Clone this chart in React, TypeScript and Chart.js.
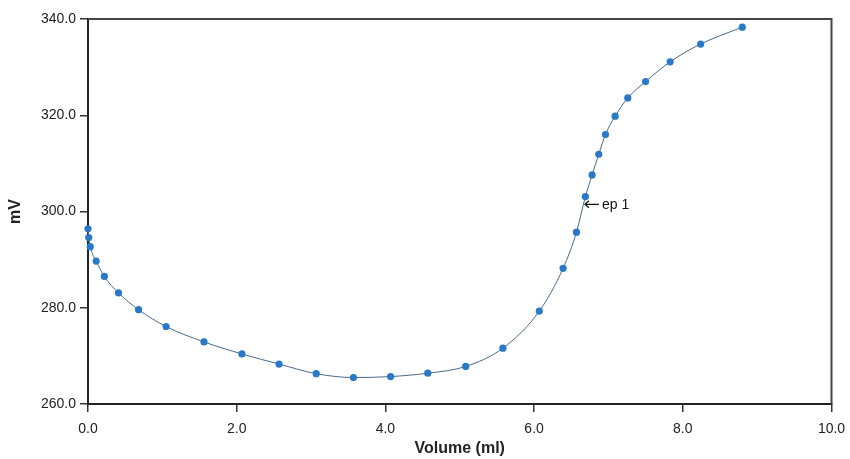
import React, { useEffect, useRef } from "react";
import { Chart, registerables } from "chart.js";

Chart.register(...registerables);

const volumes = [
  0.0, 0.01, 0.03, 0.11, 0.22, 0.41, 0.68, 1.05, 1.56, 2.07, 2.57, 3.07, 3.57, 4.07, 4.57,
  5.08, 5.58, 6.07, 6.39, 6.57, 6.69, 6.78, 6.87, 6.96, 7.09, 7.26, 7.5, 7.83, 8.24, 8.8,
];
const millivolts = [
  296.4, 294.6, 292.7, 289.7, 286.5, 283.1, 279.6, 276.1, 272.9, 270.4, 268.3, 266.3, 265.5,
  265.7, 266.4, 267.8, 271.6, 279.3, 288.2, 295.7, 303.1, 307.6, 311.9, 316.0, 319.8, 323.6,
  327.0, 331.1, 334.8, 338.3,
];
const endpointLabel = "ep 1";
const endpointVolume = 6.67;
const endpointMv = 301.5;
const xTitle = "Volume (ml)";
const yTitle = "mV";

const FONT = "'Liberation Sans', Arial, sans-serif";

export default function App() {
  const ref = useRef<HTMLCanvasElement | null>(null);

  useEffect(() => {
    document.body.style.margin = "0";
    const canvas = ref.current;
    if (!canvas) return;

    const framePlugin = {
      id: "frame",
      beforeDatasetsDraw(chart: any) {
        const { ctx, chartArea } = chart;
        ctx.save();
        ctx.strokeStyle = "#444";
        ctx.lineWidth = 2;
        ctx.beginPath();
        ctx.moveTo(chartArea.left, chartArea.top);
        ctx.lineTo(chartArea.right, chartArea.top);
        ctx.lineTo(chartArea.right, chartArea.bottom);
        ctx.stroke();
        ctx.restore();
      },
    };

    const epPlugin = {
      id: "ep",
      afterDatasetsDraw(chart: any) {
        const { ctx, scales } = chart;
        const px = scales.x.getPixelForValue(endpointVolume);
        const py = scales.y.getPixelForValue(endpointMv);
        ctx.save();
        ctx.strokeStyle = "#111";
        ctx.lineWidth = 1.2;
        ctx.beginPath();
        ctx.moveTo(px + 1, py);
        ctx.lineTo(px + 15, py);
        ctx.moveTo(px + 5, py - 3.5);
        ctx.lineTo(px + 1, py);
        ctx.lineTo(px + 5, py + 3.5);
        ctx.stroke();
        ctx.fillStyle = "#111";
        ctx.font = `14px ${FONT}`;
        ctx.textBaseline = "middle";
        ctx.textAlign = "left";
        ctx.fillText(endpointLabel, px + 18, py + 1);
        ctx.restore();
      },
    };

    const chart = new Chart(canvas, {
      type: "line",
      data: {
        datasets: [
          {
            data: volumes.map((v, i) => ({ x: v, y: millivolts[i] })),
            borderColor: "#466a8a",
            borderWidth: 1,
            pointBackgroundColor: "#2a79c9",
            pointBorderColor: "#2a79c9",
            pointRadius: 3.6,
            pointBorderWidth: 0,
            cubicInterpolationMode: "monotone",
            fill: false,
            clip: false,
          },
        ],
      },
      options: {
        responsive: false,
        animation: false,
        layout: { autoPadding: false, padding: { top: 19, right: 18.5, left: 0, bottom: 0 } },
        plugins: { legend: { display: false }, tooltip: { enabled: false } },
        scales: {
          x: {
            type: "linear",
            min: 0,
            max: 10,
            ticks: {
              stepSize: 2,
              color: "#222",
              font: { family: FONT, size: 14 },
              padding: 9,
              maxRotation: 0,
              callback: (v: any) => Number(v).toFixed(1),
            },
            grid: {
              drawOnChartArea: false,
              drawTicks: true,
              tickLength: 8,
              color: "#333",
              lineWidth: 1.5,
            },
            border: { display: true, color: "#222", width: 2 },
            title: {
              display: true,
              text: xTitle,
              color: "#222",
              font: { family: FONT, size: 16, weight: "bold", lineHeight: 1 },
              padding: { top: 0, bottom: 2 },
            },
            afterFit: (s: any) => {
              s.height = 55;
              s.paddingLeft = 0;
              s.paddingRight = 0;
            },
          },
          y: {
            type: "linear",
            min: 260,
            max: 340,
            ticks: {
              stepSize: 20,
              color: "#222",
              font: { family: FONT, size: 14 },
              padding: 4,
              callback: (v: any) => Number(v).toFixed(1),
            },
            grid: {
              drawOnChartArea: false,
              drawTicks: true,
              tickLength: 8,
              color: "#333",
              lineWidth: 1.5,
            },
            border: { display: true, color: "#222", width: 2 },
            title: {
              display: true,
              text: yTitle,
              color: "#222",
              font: { family: FONT, size: 16, weight: "bold", lineHeight: 1 },
              padding: { top: 8, bottom: 0 },
            },
            afterFit: (s: any) => {
              s.width = 88;
            },
          },
        },
      },
      plugins: [framePlugin, epPlugin],
    });

    return () => chart.destroy();
  }, []);

  return (
    <div style={{ position: "absolute", left: 0, top: 0, width: 850, height: 459, background: "#fff" }}>
      <canvas ref={ref} width={850} height={459} style={{ width: 850, height: 459, display: "block" }} />
    </div>
  );
}
